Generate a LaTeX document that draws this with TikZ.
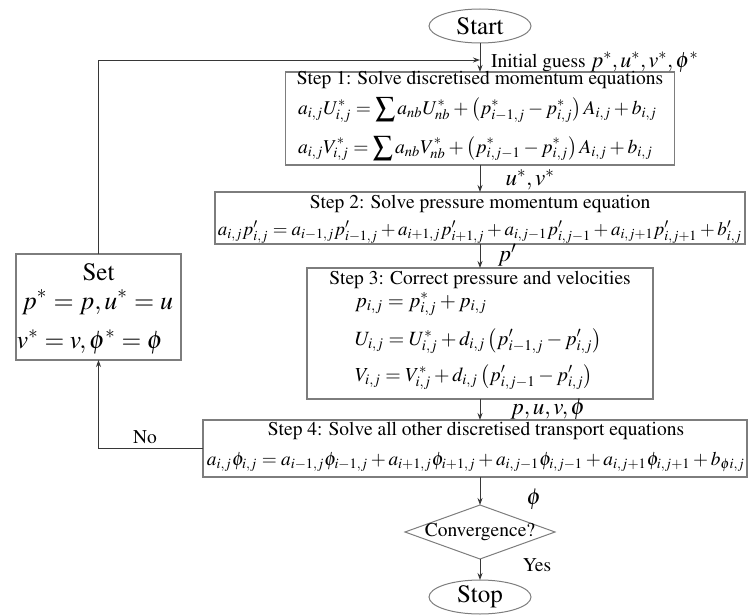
\documentclass[tikz,border=0pt]{standalone}
\usepackage[T1]{fontenc}
\usepackage{mathptmx}
\usepackage{graphicx}
\usetikzlibrary{shapes.geometric,arrows.meta}
\definecolor{boxgray}{RGB}{125,125,125}
\definecolor{linegray}{RGB}{55,55,55}
\newcommand{\eqfit}[2]{\resizebox{#1}{!}{$\displaystyle #2$}}
\begin{document}
\begin{tikzpicture}[x=1pt,y=-1pt,
  every node/.style={inner sep=0pt, outer sep=0pt},
  boxn/.style={draw=boxgray, line width=1.1pt, rectangle},
  term/.style={draw=boxgray, line width=1pt, ellipse, minimum width=102pt, minimum height=34pt, font=\fontsize{25}{28}\selectfont},
  decis/.style={draw=boxgray, line width=1pt, diamond, minimum width=150pt, minimum height=54pt},
  ttl/.style={font=\fontsize{19.5}{22}\selectfont},
  lbl/.style={font=\fontsize{19.5}{22}\selectfont},
  mlbl/.style={font=\fontsize{23}{26}\selectfont},
  conn/.style={draw=linegray, line width=0.9pt, -{Stealth[length=7pt,width=5pt]}}]
\useasboundingbox (0,0) rectangle (749,615);

% terminals and boxes
\node[term] (start) at (480,26) {Start};
\node[boxn, minimum width=389pt, minimum height=93pt] (step1) at (480,118.5) {};
\node[boxn, minimum width=530pt, minimum height=52pt] (step2) at (480,218) {};
\node[boxn, minimum width=346pt, minimum height=131pt] (step3) at (480,333.5) {};
\node[boxn, minimum width=544pt, minimum height=57pt] (step4) at (475,448.5) {};
\node[boxn, minimum width=165pt, minimum height=106pt] (setb) at (98.5,307) {};
\node[decis] (conv) at (480,532) {};
\node[term] (stop) at (480,597) {Stop};

% step 1 contents
\node[ttl] (t1) at (480,80) {Step 1: Solve discretised momentum equations};
\node[anchor=west] (e11) at (298,110) {\eqfit{359pt}{a_{i,j}U^{*}_{i,j}=\sum a_{nb}U^{*}_{nb}+\left(p^{*}_{i-1,j}-p^{*}_{i,j}\right)A_{i,j}+b_{i,j}}};
\node[anchor=west] (e12) at (298,148.5) {\eqfit{355pt}{a_{i,j}V^{*}_{i,j}=\sum a_{nb}V^{*}_{nb}+\left(p^{*}_{i,j-1}-p^{*}_{i,j}\right)A_{i,j}+b_{i,j}}};

% step 2 contents
\node[ttl] (t2) at (480,204) {Step 2: Solve pressure momentum equation};
\node (e21) at (480,232) {\eqfit{524pt}{a_{i,j}p^{\prime}_{i,j}=a_{i-1,j}p^{\prime}_{i-1,j}+a_{i+1,j}p^{\prime}_{i+1,j}+a_{i,j-1}p^{\prime}_{i,j-1}+a_{i,j+1}p^{\prime}_{i,j+1}+b^{\prime}_{i,j}}};

% step 3 contents
\node[ttl] (t3) at (480,280) {Step 3: Correct pressure and velocities};
\node[anchor=west] (e31) at (355,304) {\eqfit{132pt}{p_{i,j}=p^{*}_{i,j}+p_{i,j}}};
\node[anchor=west] (e32) at (355,341) {\eqfit{247pt}{U_{i,j}=U^{*}_{i,j}+d_{i,j}\left(p^{\prime}_{i-1,j}-p^{\prime}_{i,j}\right)}};
\node[anchor=west] (e33) at (355,377) {\eqfit{238pt}{V_{i,j}=V^{*}_{i,j}+d_{i,j}\left(p^{\prime}_{i,j-1}-p^{\prime}_{i,j}\right)}};

% step 4 contents
\node[ttl] (t4) at (476,430.5) {Step 4: Solve all other discretised transport equations};
\node (e41) at (476,462) {\eqfit{538pt}{a_{i,j}\phi_{i,j}=a_{i-1,j}\phi_{i-1,j}+a_{i+1,j}\phi_{i+1,j}+a_{i,j-1}\phi_{i,j-1}+a_{i,j+1}\phi_{i,j+1}+b_{\phi i,j}}};

% set contents
\node[font=\fontsize{25}{28}\selectfont] (tset) at (98.5,272) {Set};
\node (es1) at (97.5,302) {\eqfit{151pt}{p^{*}=p,u^{*}=u}};
\node (es2) at (90,342) {\eqfit{146pt}{v^{*}=v,\phi^{*}=\phi}};

% decision text
\node[lbl] (tconv) at (480,532) {Convergence?};

% connectors
\coordinate (fb) at (480,60);
\draw[conn] (start.south) -- (step1.north);
\draw[conn] (setb.north) |- (fb);
\draw[conn] (step1.south) -- (step2.north);
\draw[conn] (step2.south) -- (step3.north);
\draw[conn] (step3.south) -- (step3.south |- step4.north);
\draw[conn] (conv.north |- step4.south) -- (conv.north);
\draw[conn] (conv.south) -- (stop.north);
\draw[conn] (step4.west) -| (setb.south);

% labels
\node[lbl, anchor=west] (ig) at (491,62) {Initial guess \fontsize{22}{26}\selectfont$p^{*},u^{*},v^{*},\phi^{*}$};
\node[mlbl] (luv) at (530,180) {$u^{*},v^{*}$};
\node[mlbl] (lp) at (507,255) {$p^{\prime}$};
\node[mlbl] (lpuv) at (548,409) {$p,u,v,\phi$};
\node[mlbl] (lphi) at (534,499) {$\phi$};
\node[lbl] (lyes) at (537,565) {Yes};
\node[lbl] (lno) at (145,437) {No};
\end{tikzpicture}
\end{document}
